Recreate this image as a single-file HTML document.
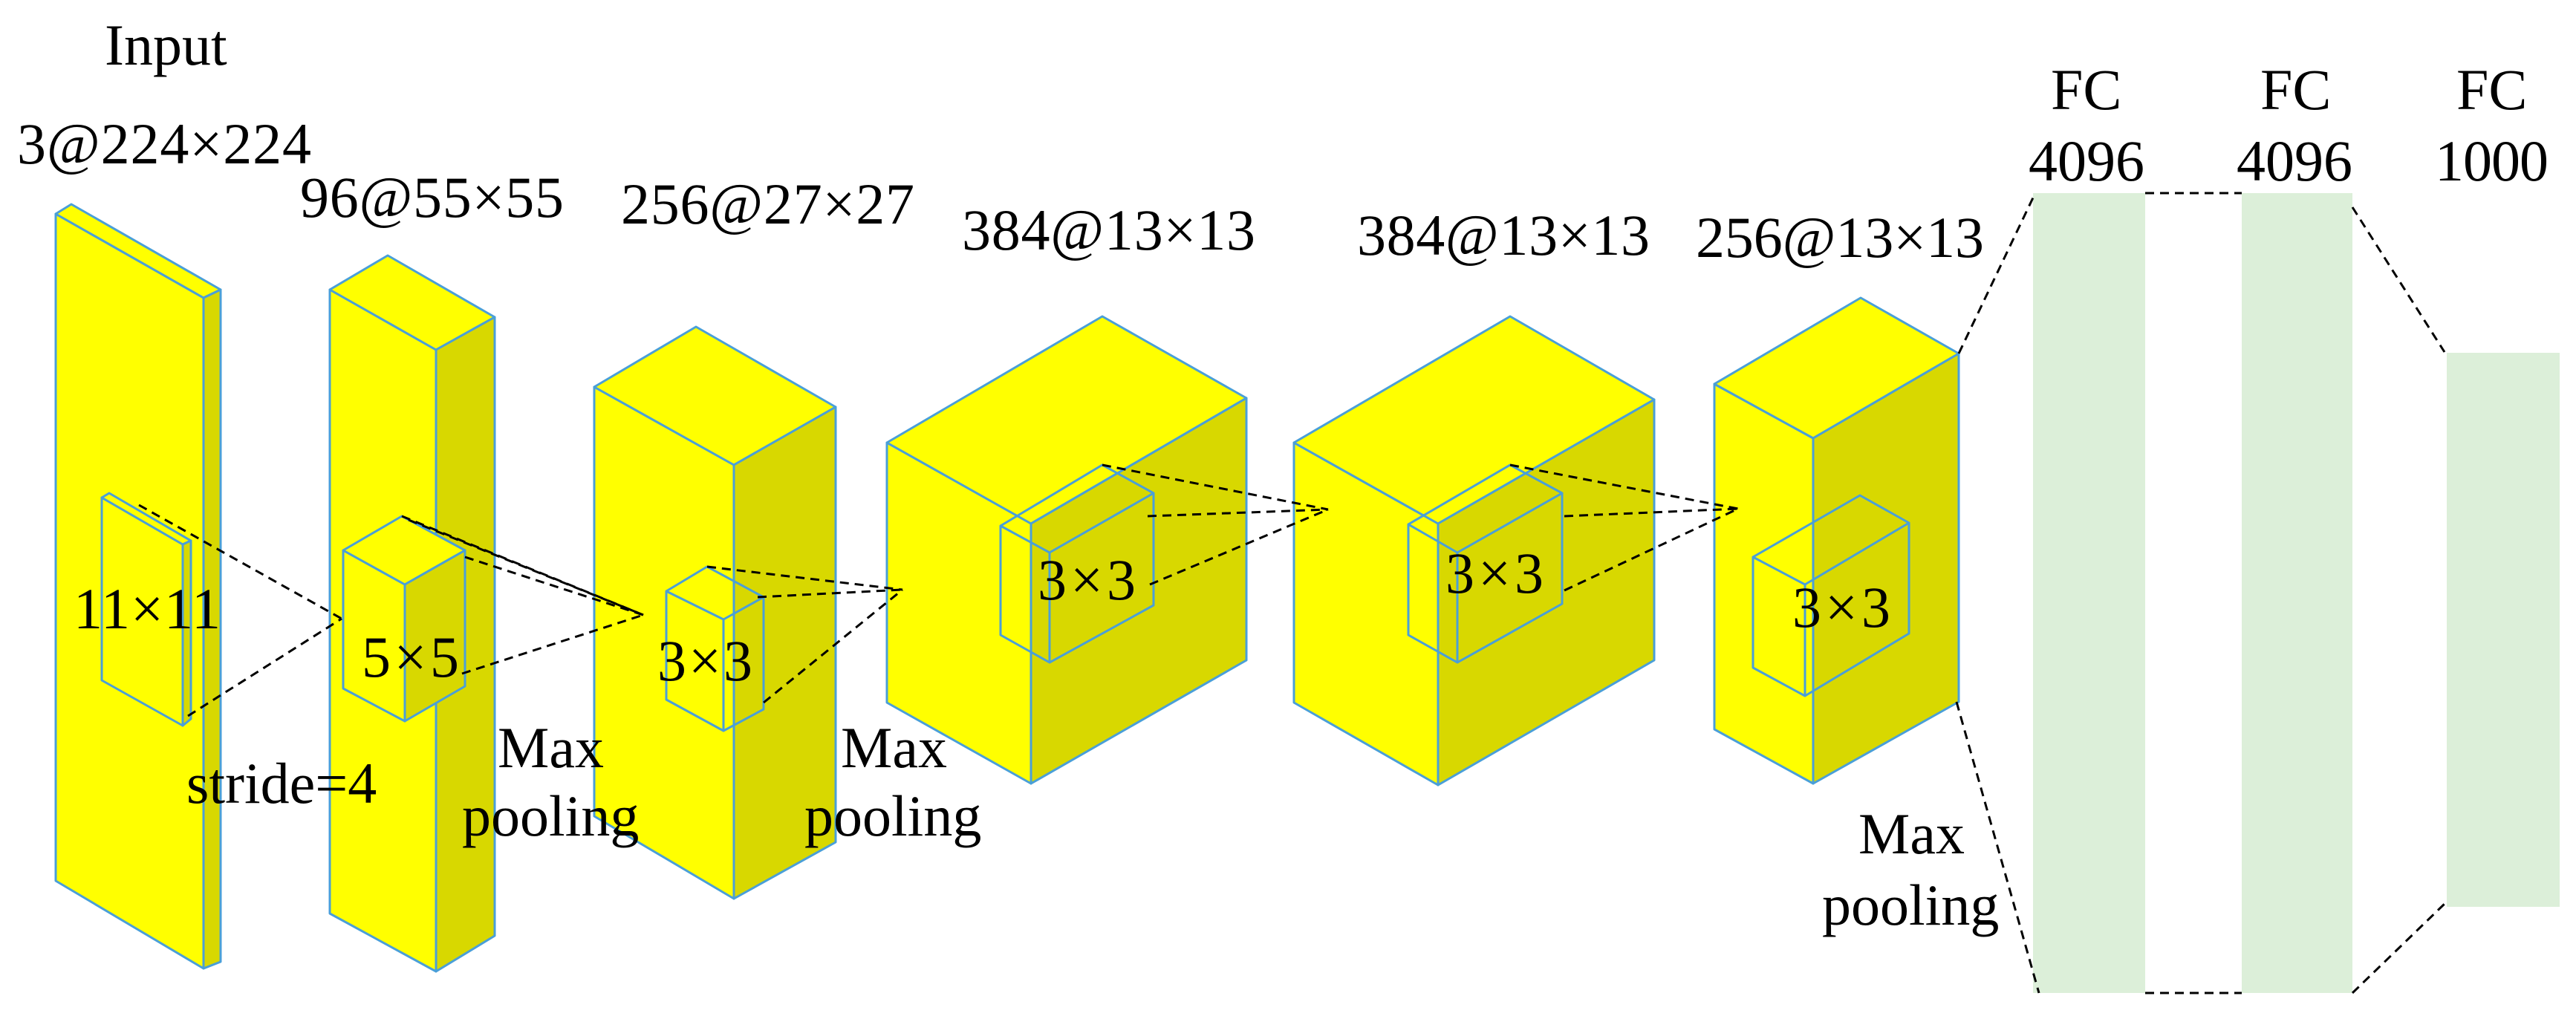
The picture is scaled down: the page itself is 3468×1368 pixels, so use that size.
<!DOCTYPE html>
<html><head><meta charset="utf-8"><style>
html,body{margin:0;padding:0;background:#fff;width:3468px;height:1368px;overflow:hidden}
</style></head><body>
<svg width="3468" height="1368" viewBox="0 0 3468 1368" xmlns="http://www.w3.org/2000/svg">
<g stroke="#4a9fd8" stroke-width="3" stroke-linejoin="round">
<polygon points="75,288 274,401 274,1304 75,1186" fill="#ffff00"/>
<polygon points="75,288 96,275 297,390 274,401" fill="#ffff00"/>
<polygon points="274,401 297,390 297,1295 274,1304" fill="#d8d800"/>
<polygon points="137,670 246,733 246,977 137,916" fill="#ffff00"/>
<polygon points="137,670 147,664 257,728 246,733" fill="#ffff00"/>
<polygon points="246,733 257,728 257,968 246,977" fill="#d8d800"/>
<polygon points="444,390 587,471 587,1308 444,1230" fill="#ffff00"/>
<polygon points="444,390 522,344 666,427 587,471" fill="#ffff00"/>
<polygon points="587,471 666,427 666,1260 587,1308" fill="#d8d800"/>
<polygon points="462,741 545,787 545,971 462,927" fill="#ffff00"/>
<polygon points="462,741 541,695 626,741 545,787" fill="#ffff00"/>
<polygon points="545,787 626,741 626,924 545,971" fill="#d8d800"/>
<polygon points="800,521 988,626 988,1210 800,1099" fill="#ffff00"/>
<polygon points="800,521 937,440 1125,548 988,626" fill="#ffff00"/>
<polygon points="988,626 1125,548 1125,1134 988,1210" fill="#d8d800"/>
<g fill="none"><polygon points="897,796 974,834 974,984 897,942"/>
<polyline points="897,796 952,763 1028,804 974,834"/>
<polyline points="1028,804 1028,955 974,984"/></g>
<polygon points="1194,596 1388,705 1388,1055 1194,946" fill="#ffff00"/>
<polygon points="1194,596 1484,426 1678,536 1388,705" fill="#ffff00"/>
<polygon points="1388,705 1678,536 1678,889 1388,1055" fill="#d8d800"/>
<g fill="none"><polygon points="1347,708 1413,744 1413,892 1347,855"/>
<polyline points="1347,708 1484,626 1553,664 1413,744"/>
<polyline points="1553,664 1553,815 1413,892"/></g>
<polygon points="1742,596 1936,705 1936,1057 1742,946" fill="#ffff00"/>
<polygon points="1742,596 2033,426 2227,538 1936,705" fill="#ffff00"/>
<polygon points="1936,705 2227,538 2227,889 1936,1057" fill="#d8d800"/>
<g fill="none"><polygon points="1896,706 1962,744 1962,892 1896,855"/>
<polyline points="1896,706 2033,626 2103,664 1962,744"/>
<polyline points="2103,664 2103,813 1962,892"/></g>
<polygon points="2308,517 2441,590 2441,1055 2308,982" fill="#ffff00"/>
<polygon points="2308,517 2505,401 2637,476 2441,590" fill="#ffff00"/>
<polygon points="2441,590 2637,476 2637,945 2441,1055" fill="#d8d800"/>
<g fill="none"><polygon points="2360,750 2430,787 2430,937 2360,899"/>
<polyline points="2360,750 2504,667 2570,704 2430,787"/>
<polyline points="2570,704 2570,853 2430,937"/></g>
</g>
<rect x="2737" y="260" width="151" height="1077" fill="#dcefd9"/>
<rect x="3018" y="260" width="149" height="1077" fill="#dcefd9"/>
<rect x="3294" y="475" width="152" height="746" fill="#dcefd9"/>
<g stroke="#000" stroke-width="3" stroke-dasharray="12,8" fill="none">
<line x1="187" y1="680" x2="460" y2="833"/>
<line x1="253" y1="964" x2="460" y2="833"/>
<line x1="541" y1="695" x2="866" y2="828"/>
<line x1="550" y1="700" x2="866" y2="828"/>
<line x1="626" y1="750" x2="866" y2="828"/>
<line x1="622" y1="907" x2="866" y2="828"/>
<line x1="952" y1="763" x2="1215" y2="794"/>
<line x1="1020" y1="804" x2="1215" y2="794"/>
<line x1="1028" y1="946" x2="1215" y2="794"/>
<line x1="1484" y1="626" x2="1788" y2="686"/>
<line x1="1545" y1="695" x2="1788" y2="686"/>
<line x1="1548" y1="787" x2="1788" y2="686"/>
<line x1="2033" y1="626" x2="2340" y2="685"/>
<line x1="2106" y1="695" x2="2340" y2="685"/>
<line x1="2106" y1="795" x2="2340" y2="685"/>
<line x1="2637" y1="476" x2="2740" y2="260"/>
<line x1="2634" y1="945" x2="2745" y2="1337"/>
<line x1="2888" y1="260" x2="3018" y2="260"/>
<line x1="2888" y1="1337" x2="3018" y2="1337"/>
<line x1="3167" y1="279" x2="3291" y2="474"/>
<line x1="3167" y1="1337" x2="3291" y2="1217"/>
</g>
<g font-family="Liberation Serif, Times New Roman, serif" font-size="78" fill="#000">
<text x="141" y="87">Input</text>
<text x="23" y="220" textLength="396" lengthAdjust="spacing">3@224×224</text>
<text x="404" y="292" textLength="355" lengthAdjust="spacing">96@55×55</text>
<text x="836" y="301" textLength="395" lengthAdjust="spacing">256@27×27</text>
<text x="1295" y="336" textLength="395" lengthAdjust="spacing">384@13×13</text>
<text x="1827" y="343" textLength="394" lengthAdjust="spacing">384@13×13</text>
<text x="2283" y="346" textLength="388" lengthAdjust="spacing">256@13×13</text>
<text x="2761" y="147">FC</text><text x="2731" y="243" textLength="156" lengthAdjust="spacing">4096</text>
<text x="3043" y="147">FC</text><text x="3011" y="243" textLength="156" lengthAdjust="spacing">4096</text>
<text x="3307" y="147">FC</text><text x="3278" y="243" textLength="153" lengthAdjust="spacing">1000</text>
<text x="99" y="846" textLength="198" lengthAdjust="spacing">11×11</text>
<text x="487" y="911" textLength="131" lengthAdjust="spacing">5×5</text>
<text x="885" y="916" textLength="128" lengthAdjust="spacing">3×3</text>
<text x="1397" y="807" textLength="132" lengthAdjust="spacing">3×3</text>
<text x="1946" y="798" textLength="132" lengthAdjust="spacing">3×3</text>
<text x="2413" y="844" textLength="132" lengthAdjust="spacing">3×3</text>
<text x="251" y="1081">stride=4</text>
<text x="670" y="1033">Max</text><text x="622" y="1125">pooling</text>
<text x="1132" y="1033">Max</text><text x="1083" y="1125">pooling</text>
<text x="2502" y="1149">Max</text><text x="2453" y="1245">pooling</text>
</g>
</svg>
</body></html>
